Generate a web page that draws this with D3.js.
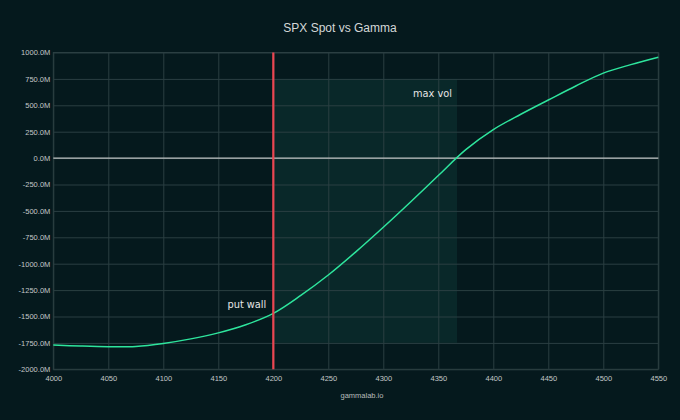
<!DOCTYPE html>
<html><head><meta charset="utf-8">
<script src="https://cdn.jsdelivr.net/npm/d3@7"></script>
<style>
html,body{margin:0;padding:0;background:#05191d;}
svg{display:block;font-family:"Liberation Sans",Arial,sans-serif;}
</style></head>
<body>
<svg id="c" width="680" height="420"></svg>
<script>
const spot = [4000,4025,4050,4075,4100,4125,4150,4175,4200,4225,4250,4275,4300,4325,4350,4375,4400,4425,4450,4475,4500,4525,4550];
const gamma = [-1770,-1780,-1786,-1783,-1755,-1712,-1655,-1578,-1470,-1300,-1107,-888,-655,-413,-165,80,270,415,550,683,805,885,955];
const xTicks = [4000,4050,4100,4150,4200,4250,4300,4350,4400,4450,4500,4550];
const yTicks = [1000,750,500,250,0,-250,-500,-750,-1000,-1250,-1500,-1750,-2000];
const putWall = 4200;
const zoneX = [4200, 4367];
const zoneY = [750, -1750];

const svg = d3.select("#c");
const m = {l:53.3, r:658.3, t:52.5, b:369.3};
const x = d3.scaleLinear().domain([4000,4550]).range([m.l,m.r]);
const y = d3.scaleLinear().domain([-2000,1000]).range([m.b,m.t]);

svg.append("rect").attr("width",680).attr("height",420).attr("fill","#05191d");

// shaded zone
svg.append("rect")
  .attr("x",x(zoneX[0])).attr("y",y(zoneY[0]))
  .attr("width",x(zoneX[1])-x(zoneX[0])).attr("height",y(zoneY[1])-y(zoneY[0]))
  .attr("fill","#092829");

// grid
const gx = svg.append("g").attr("transform",`translate(0,${m.b})`)
  .call(d3.axisBottom(x).tickValues(xTicks).tickSize(-(m.b-m.t)).tickPadding(6).tickFormat(d3.format("d")));
const gy = svg.append("g").attr("transform",`translate(${m.l},0)`)
  .call(d3.axisLeft(y).tickValues(yTicks).tickSize(-(m.r-m.l)).tickPadding(3).tickFormat(d=>d.toFixed(1)+"M"));
[gx,gy].forEach(g=>{
  g.select(".domain").remove();
  g.selectAll(".tick line").attr("stroke","#2b3f42").attr("stroke-width",1);
  g.selectAll(".tick text").attr("fill","#c4c8c8").attr("font-size","7.5px");
});
// frame
svg.append("rect").attr("x",m.l).attr("y",m.t).attr("width",m.r-m.l).attr("height",m.b-m.t)
  .attr("fill","none").attr("stroke","#2b3f42");

// zero line
svg.append("line").attr("x1",m.l).attr("x2",m.r).attr("y1",y(0)).attr("y2",y(0))
  .attr("stroke","#c0c4c4").attr("stroke-width",1.1);

// curve
const line = d3.line().x((d,i)=>x(spot[i])).y(d=>y(d)).curve(d3.curveCatmullRom.alpha(0.5));
svg.append("path").datum(gamma).attr("d",line).attr("fill","none")
  .attr("stroke","#2ee59d").attr("stroke-width",1.5);

// put wall
svg.append("line").attr("x1",x(putWall)).attr("x2",x(putWall)).attr("y1",m.t).attr("y2",m.b)
  .attr("stroke","#ea4652").attr("stroke-width",2.2);

svg.append("text").attr("x",x(putWall)-7).attr("y",308).attr("text-anchor","end")
  .attr("fill","#e6e6e6").attr("font-size","9.8px").attr("font-family","'DejaVu Sans',sans-serif").text("put wall");
svg.append("text").attr("x",452).attr("y",96.5).attr("text-anchor","end")
  .attr("fill","#e6e6e6").attr("font-size","9.8px").attr("font-family","'DejaVu Sans',sans-serif").text("max vol");

svg.append("text").attr("x",340).attr("y",31.5).attr("text-anchor","middle")
  .attr("fill","#d4d8d8").attr("font-size","12px").text("SPX Spot vs Gamma");
svg.append("text").attr("x",362).attr("y",398).attr("text-anchor","middle")
  .attr("fill","#b8bcbc").attr("font-size","7.5px").text("gammalab.io");
</script>
</body></html>
